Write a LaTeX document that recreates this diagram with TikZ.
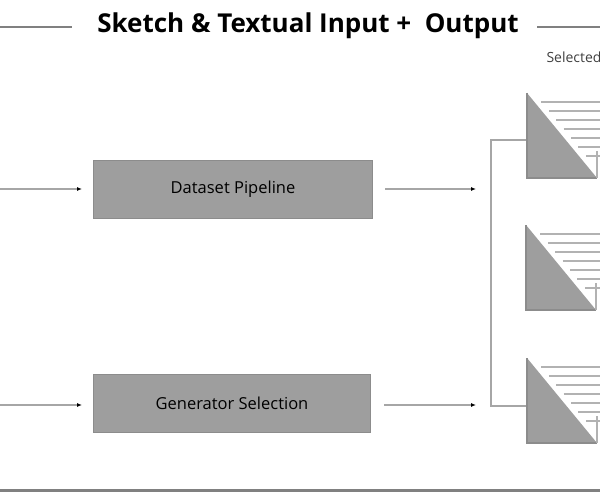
\documentclass[tikz,border=0pt]{standalone}
\usepackage{fontspec}
\setmainfont{Open Sans}
\usetikzlibrary{arrows.meta}
\tikzset{
  stage/.style={rectangle, draw=black!45, fill=black!38, line width=1.2pt, minimum height=58pt, text centered, font=\fontsize{16.5}{19}\selectfont},
  flow/.style={draw=black!35, line width=1.2pt, -{Latex[length=5pt,width=4pt,black]}},
  rail/.style={draw=black!50, line width=2.2pt},
}
\newcommand{\sheet}[2]{%
  \fill[black!38] (#1,#2) -- (#1,#2+85) -- (#1+70,#2+85) -- cycle;
  \draw[black!45, line width=1.2pt] (#1,#2) -- (#1,#2+85) -- (#1+70,#2+85);
  \draw[black!30, line width=1.2pt] (#1+70,#2+58) -- (#1+70,#2+85);
  \foreach \k in {1,...,7}
    \draw[black!30, line width=1.2pt] ({#1+(\k*9)*70/85+7},#2+\k*9) -- (#1+75,#2+\k*9);
}
\begin{document}
\begin{tikzpicture}[x=1pt,y=-1pt]
  \useasboundingbox (0,0) rectangle (600,500);
  \clip (0,0) rectangle (600,500);

  % header
  \node (title) [font=\bfseries\fontsize{26}{30}\selectfont, inner xsep=0pt] at (308,26) {Sketch \& Textual Input +\ \ Output};
  \draw[rail] (0,27) -- (72,27);
  \draw[rail] (537,27) -- (600,27);
  \node (sel) [anchor=west, font=\fontsize{14}{16}\selectfont, text=black!75] at (543,57) {Selected};

  % stages
  \node (data) [stage, minimum width=279pt] at (233,189.5) {Dataset Pipeline};
  \node (gen) [stage, minimum width=277pt] at (232,403.5) {Generator Selection};

  \coordinate (inA) at (0,189);
  \coordinate (inB) at (0,405);
  \coordinate (outA) at (476,189);
  \coordinate (outB) at (476,405);
  \draw[flow] (inA) -- (82,189);
  \draw[flow] (inB) -- (82,405);
  \draw[flow] (data.east |- outA) ++(12,0) -- (outA);
  \draw[flow] (gen.east |- outB) ++(13,0) -- (outB);

  % fan out
  \coordinate (topA) at (527,140);
  \coordinate (topB) at (527,406);
  \draw[draw=black!35, line width=1.4pt] (topA) -| (491,406) -- (topB);

  \sheet{527}{93}
  \sheet{526}{225}
  \sheet{527}{358}

  % footer
  \draw[rail, line width=3pt] (0,490) -- (600,490);
\end{tikzpicture}
\end{document}
